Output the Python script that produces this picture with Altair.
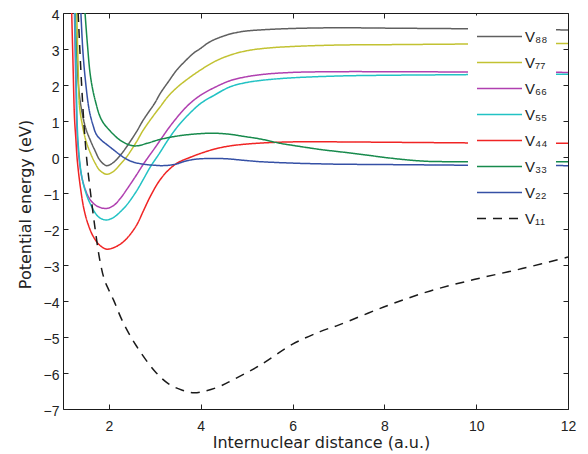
import altair as alt
import pandas as pd

# ---- data ----
series_names = ["V₈₈", "V₇₇", "V₆₆", "V₅₅", "V₄₄", "V₃₃", "V₂₂", "V₁₁"]
series_colors = ["#5f5f5f", "#c2c232", "#b040b0", "#22c2c4", "#f02424", "#178a4c", "#3550a5", "#1a1a1a"]

v88_x = [1.27, 1.30, 1.35, 1.42, 1.50, 1.60, 1.70, 1.80, 1.95, 2.10, 2.25, 2.39, 2.60, 2.75, 3.00, 3.12,
         3.30, 3.48, 3.65, 3.84, 4.00, 4.20, 4.57, 4.93, 5.30, 6.00, 7.00, 8.00, 9.00, 10.0, 11.0, 12.0]
v88_y = [4.0, 2.8, 1.8, 1.2, 0.78, 0.45, 0.17, -0.08, -0.24, -0.15, 0.05, 0.29, 0.70, 1.03, 1.50, 1.77,
         2.10, 2.42, 2.65, 2.88, 3.02, 3.20, 3.39, 3.49, 3.53, 3.57, 3.59, 3.58, 3.57, 3.56, 3.54, 3.53]

v77_x = [1.30, 1.33, 1.36, 1.42, 1.50, 1.60, 1.70, 1.80, 1.95, 2.10, 2.25, 2.39, 2.60, 2.75, 3.00, 3.12,
         3.30, 3.50, 3.75, 4.00, 4.30, 4.64, 5.00, 5.40, 6.00, 7.00, 8.00, 9.00, 10.0, 11.0, 12.0]
v77_y = [4.0, 2.5, 1.4, 0.9, 0.45, 0.10, -0.17, -0.37, -0.48, -0.40, -0.20, 0.01, 0.42, 0.75, 1.20, 1.40,
         1.70, 1.95, 2.20, 2.42, 2.65, 2.83, 2.95, 3.02, 3.07, 3.11, 3.12, 3.13, 3.14, 3.15, 3.15]

v66_x = [1.25, 1.28, 1.32, 1.40, 1.50, 1.60, 1.75, 1.95, 2.10, 2.25, 2.39, 2.60, 2.75, 3.00, 3.12, 3.30,
         3.55, 3.75, 4.00, 4.30, 4.64, 5.00, 5.40, 6.00, 7.00, 8.00, 10.0, 12.0]
v66_y = [4.0, 2.0, 0.4, -0.5, -0.95, -1.20, -1.37, -1.43, -1.35, -1.15, -0.90, -0.50, -0.20, 0.25, 0.47, 0.80,
         1.20, 1.47, 1.72, 1.93, 2.12, 2.23, 2.30, 2.35, 2.37, 2.37, 2.36, 2.35]

v55_x = [1.26, 1.29, 1.33, 1.41, 1.50, 1.59, 1.77, 1.94, 2.10, 2.25, 2.39, 2.60, 2.75, 2.90, 3.10, 3.30,
         3.50, 3.75, 4.00, 4.30, 4.64, 5.00, 5.40, 6.00, 7.00, 8.00, 9.00, 10.0, 12.0]
v55_y = [4.0, 2.0, 0.38, -0.55, -1.0, -1.29, -1.66, -1.75, -1.68, -1.52, -1.33, -0.95, -0.62, -0.28, 0.10, 0.50,
         0.85, 1.20, 1.49, 1.72, 1.95, 2.07, 2.14, 2.20, 2.25, 2.27, 2.28, 2.29, 2.30]

v44_x = [1.19, 1.22, 1.25, 1.28, 1.31, 1.38, 1.46, 1.55, 1.66, 1.80, 1.95, 2.10, 2.25, 2.40, 2.60, 2.75,
         2.90, 3.10, 3.30, 3.50, 3.75, 4.00, 4.30, 4.60, 5.00, 5.50, 6.00, 7.00, 8.00, 9.00, 10.0, 11.0, 12.0]
v44_y = [4.0, 2.5, 1.1, 0.5, -0.08, -0.85, -1.47, -1.88, -2.21, -2.45, -2.56, -2.52, -2.42, -2.25, -1.90, -1.50,
         -1.10, -0.66, -0.36, -0.16, -0.02, 0.10, 0.22, 0.30, 0.36, 0.40, 0.42, 0.42, 0.41, 0.40, 0.39, 0.38, 0.38]

v33_x = [1.48, 1.53, 1.60, 1.70, 1.84, 2.03, 2.24, 2.46, 2.61, 2.83, 3.12, 3.48, 3.80, 4.20, 4.57, 5.00,
         5.30, 5.73, 6.02, 6.60, 7.33, 8.06, 8.50, 8.93, 9.50, 10.0, 11.0, 12.0]
v33_y = [4.0, 3.16, 2.23, 1.58, 1.03, 0.72, 0.47, 0.33, 0.31, 0.38, 0.49, 0.58, 0.63, 0.66, 0.64, 0.56,
         0.50, 0.38, 0.32, 0.21, 0.10, -0.02, -0.08, -0.12, -0.13, -0.13, -0.13, -0.13]

v22_x = [1.39, 1.43, 1.48, 1.57, 1.65, 1.73, 1.85, 1.95, 2.10, 2.24, 2.40, 2.53, 2.75, 3.00, 3.12, 3.30,
         3.48, 3.65, 3.84, 4.00, 4.20, 4.57, 5.00, 5.30, 6.00, 6.60, 7.00, 8.00, 9.00, 10.0, 12.0]
v22_y = [4.0, 3.0, 2.23, 1.31, 0.90, 0.62, 0.45, 0.35, 0.20, 0.06, -0.07, -0.14, -0.20, -0.23, -0.24, -0.23,
         -0.19, -0.12, -0.07, -0.05, -0.04, -0.05, -0.10, -0.13, -0.17, -0.19, -0.20, -0.21, -0.22, -0.23, -0.24]

v11_x = [1.33, 1.37, 1.41, 1.46, 1.52, 1.60, 1.70, 1.80, 1.90, 2.00, 2.10, 2.30, 2.60, 3.00, 3.30, 3.60,
         3.85, 4.10, 4.40, 4.70, 5.30, 6.00, 6.60, 7.00, 8.00, 9.00, 10.0, 11.0, 12.0]
v11_y = [4.0, 2.9, 1.9, 0.85, -0.10, -1.0, -2.0, -2.85, -3.40, -3.70, -3.97, -4.57, -5.25, -5.95, -6.30, -6.48,
         -6.55, -6.50, -6.38, -6.19, -5.78, -5.20, -4.85, -4.67, -4.16, -3.72, -3.39, -3.10, -2.78]

x_ticks = [2, 4, 6, 8, 10, 12]
y_ticks = [-7, -6, -5, -4, -3, -2, -1, 0, 1, 2, 3, 4]

series_xy = [(v88_x, v88_y), (v77_x, v77_y), (v66_x, v66_y), (v55_x, v55_y),
             (v44_x, v44_y), (v33_x, v33_y), (v22_x, v22_y), (v11_x, v11_y)]

rows = []
for name, (xs, ys) in zip(series_names, series_xy):
    for xv, yv in zip(xs, ys):
        rows.append({"series": name, "x": xv, "y": yv})
df = pd.DataFrame(rows)

dashes = [[1, 0]] * 7 + [[9, 7]]

FONT = "Liberation Sans"
TFONT = "DejaVu Sans"
TXT = "#222222"

x_scale = alt.Scale(domain=[1, 12], nice=False, zero=False)
y_scale = alt.Scale(domain=[-7, 4], nice=False, zero=False)

legend_kw = dict(
    title=None, orient="none", legendX=405, legendY=2.5,
    fillColor="white", padding=8,
    symbolType="stroke", symbolSize=2025, symbolStrokeWidth=1.5,
    labelFont=FONT, labelFontSize=15, labelColor=TXT, labelOffset=2,
    rowPadding=0, clipHeight=26,
)

lines = alt.Chart(df).mark_line(clip=True, strokeWidth=1.5, interpolate="catmull-rom").encode(
    x=alt.X("x:Q", scale=x_scale, axis=alt.Axis(
        orient="bottom", values=x_ticks, offset=-5, tickSize=5, domain=False, grid=False,
        labelFlush=False, labelFont=FONT, labelFontSize=14, labelPadding=10, labelColor=TXT,
        tickColor=TXT, title="Internuclear distance (a.u.)", titleFont=TFONT, titleFontSize=16,
        titleFontWeight="normal", titleColor=TXT, titlePadding=1.5, titleX=258)),
    y=alt.Y("y:Q", scale=y_scale, axis=alt.Axis(
        orient="left", values=y_ticks, offset=-5, tickSize=5, domain=False, grid=False,
        labelFont=FONT, labelFontSize=14, labelPadding=4, labelOffset=2, labelColor=TXT,
        tickColor=TXT, title="Potential energy (eV)", titleFont=TFONT, titleFontSize=16,
        titleFontWeight="normal", titleColor=TXT, titlePadding=10, titleY=191)),
    color=alt.Color("series:N", scale=alt.Scale(domain=series_names, range=series_colors),
                    legend=alt.Legend(**legend_kw)),
    strokeDash=alt.StrokeDash("series:N", scale=alt.Scale(domain=series_names, range=dashes),
                              legend=alt.Legend(**legend_kw)),
)

frame = alt.Chart(df).mark_point(opacity=0, size=1).encode(
    x=alt.X("x:Q", scale=x_scale, axis=alt.Axis(
        orient="top", values=x_ticks, offset=-5, tickSize=5, domain=False, grid=False,
        labels=False, tickColor=TXT, title=None)),
    y=alt.Y("y:Q", scale=y_scale, axis=alt.Axis(
        orient="right", values=y_ticks, offset=-5, tickSize=5, domain=False, grid=False,
        labels=False, tickColor=TXT, title=None)),
)

chart = alt.layer(lines, frame).resolve_axis(x="independent", y="independent").properties(
    width=505, height=396,
    autosize=alt.AutoSizeParams(type="none"),
    padding={"left": 55, "top": 5, "right": 12, "bottom": 45},
).configure(font=FONT).configure_view(stroke="#1a1a1a", strokeWidth=1)

chart.save("out.html", embed_options={"renderer": "svg", "actions": False})
